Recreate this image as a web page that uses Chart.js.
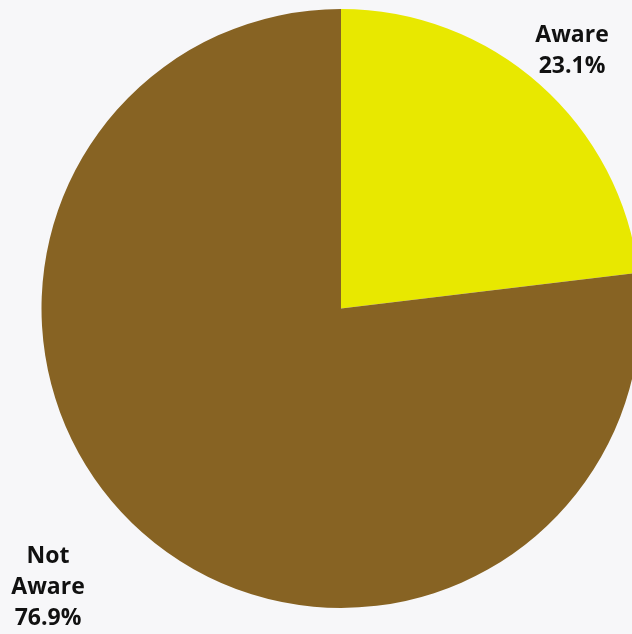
<!DOCTYPE html>
<html>
<head>
<meta charset="utf-8">
<script src="https://cdn.jsdelivr.net/npm/chart.js@4/dist/chart.umd.min.js"></script>
<style>
  html, body { margin: 0; padding: 0; background: #f7f7f9; overflow: hidden; }
  #wrap { width: 632px; height: 634px; overflow: hidden; position: relative; }
  #pieCanv { position: absolute; left: 0; top: 0; }
</style>
</head>
<body>
<div id="wrap"><canvas id="pieCanv" width="682" height="634"></canvas></div>
<script>
const labels = ['Aware', 'Not Aware'];
const values = [23.1, 76.9];
const colors = ['#e8e800', '#876323'];
// where each label sits (text lines are drawn centered)
const labelLines = [['Aware', '23.1%'], ['Not', 'Aware', '76.9%']];
const labelSpots = [{x: 572, y: 42}, {x: 48, y: 563}];

// draws the outside labels
const outLabels = {
    id: 'outLabels',
    afterDraw(chart) {
        const ctx = chart.ctx;
        ctx.save();
        ctx.font = 'bold 23px "Open Sans"';
        ctx.fillStyle = '#111111';
        ctx.textAlign = 'center';
        ctx.textBaseline = 'alphabetic';
        labelLines.forEach((lines, i) => {
            lines.forEach((txt, j) => {
                ctx.fillText(txt, labelSpots[i].x, labelSpots[i].y + j * 31);
            });
        });
        ctx.restore();
    }
};

const pieChart = new Chart(document.getElementById('pieCanv'), {
    type: 'pie',
    data: {
        labels: labels,
        datasets: [{
            data: values,
            backgroundColor: colors,
            borderWidth: 0
        }]
    },
    options: {
        responsive: false,
        animation: false,
        layout: { padding: { top: 9, bottom: 26, left: 0, right: 0 } },
        plugins: {
            legend: { display: false },
            tooltip: { enabled: false }
        }
    },
    plugins: [outLabels]
});
</script>
</body>
</html>
